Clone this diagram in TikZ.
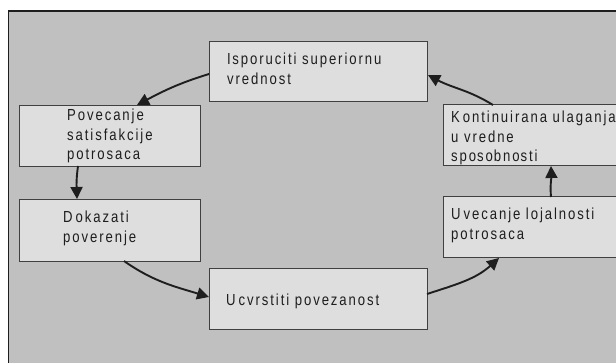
\documentclass[tikz,border=0pt]{standalone}
\usepackage{fontspec}
\setmainfont{Liberation Sans}[FakeStretch=0.82, LetterSpace=12]
\usetikzlibrary{arrows.meta}
\definecolor{panelgray}{RGB}{192,192,192}
\definecolor{boxgray}{RGB}{222,222,222}
\definecolor{inkdark}{RGB}{30,30,30}
\tikzset{
  stagebox/.style={draw=inkdark!85, line width=0.9pt, fill=boxgray, inner sep=0pt},
  stagetext/.style={anchor=base west, inner sep=0pt, align=left, text=inkdark,
    font=\fontsize{16}{19.5}\selectfont},
  flow/.style={draw=inkdark, line width=1.9pt,
    -{Triangle[length=12pt,width=12pt]}}
}
\begin{document}
\begin{tikzpicture}[x=1pt,y=1pt]
  \useasboundingbox (0,0) rectangle (616,362);
  \clip (0,0) rectangle (616,362);
  % page and outer panel
  \fill[white] (0,0) rectangle (616,362);
  \draw[fill=panelgray, draw=inkdark, line width=1.5pt] (8.6,-10) rectangle (640,351);

  % stage boxes
  \node[stagebox, minimum width=218pt, minimum height=60pt] (deliver) at (318,291) {};
  \node[stagebox, minimum width=181pt, minimum height=61pt] (satisf) at (109.5,226.5) {};
  \node[stagebox, minimum width=181pt, minimum height=62pt] (trust) at (109.5,132) {};
  \node[stagebox, minimum width=218pt, minimum height=61pt] (bond) at (318,63.5) {};
  \node[stagebox, minimum width=190pt, minimum height=61pt, anchor=south west] (loyal) at (443,104) {};
  \node[stagebox, minimum width=190pt, minimum height=61pt, anchor=south west] (invest) at (443,196) {};

  % stage labels (anchored at the baseline of their last line)
  \node[stagetext] (deliver-t) at (227,277.5) {I\kern1.5pt sporuciti superiornu\\vrednost};
  \node[stagetext] (satisf-t) at (67,202.3) {Povecanje\\satisfak\kern2pt cije\\potrosaca};
  \node[stagetext] (trust-t) at (63,119.5) {D\kern3pt okazati\\poverenje};
  \node[stagetext] (bond-t) at (226,57) {U\kern3pt cvrstiti povezanost};
  \node[stagetext] (invest-t) at (451,200) {K\kern3pt ontinuirana ulaganja\\u vredne\\spo\kern1pt so\kern1pt bno\kern1pt sti};
  \node[stagetext] (loyal-t) at (451,122.5) {U\kern3pt vecanje lojalnosti\\potrosaca};

  % end points of the cycle arrows
  \coordinate (p1s) at (209,288);  \coordinate (p1e) at (137,257);
  \coordinate (p2s) at (78,196);   \coordinate (p2e) at (77,163);
  \coordinate (p3s) at (124,101);  \coordinate (p3e) at (209,65);
  \coordinate (p4s) at (427,68);   \coordinate (p4e) at (499,104);
  \coordinate (p5s) at (551,165);  \coordinate (p5e) at (551,196);
  \coordinate (p6s) at (493,257);  \coordinate (p6e) at (428,287);

  % the cycle
  \draw[flow] (p1s) to[out=197, in=28] (p1e);
  \draw[flow] (p2s) to[out=-98, in=92] (p2e);
  \draw[flow] (p3s) to[out=-35, in=163] (p3e);
  \draw[flow] (p4s) to[out=18, in=-138] (p4e);
  \draw[flow] (p5s) to[out=95, in=-88] (p5e);
  \draw[flow] (p6s) to[out=148, in=-28] (p6e);
\end{tikzpicture}
\end{document}
